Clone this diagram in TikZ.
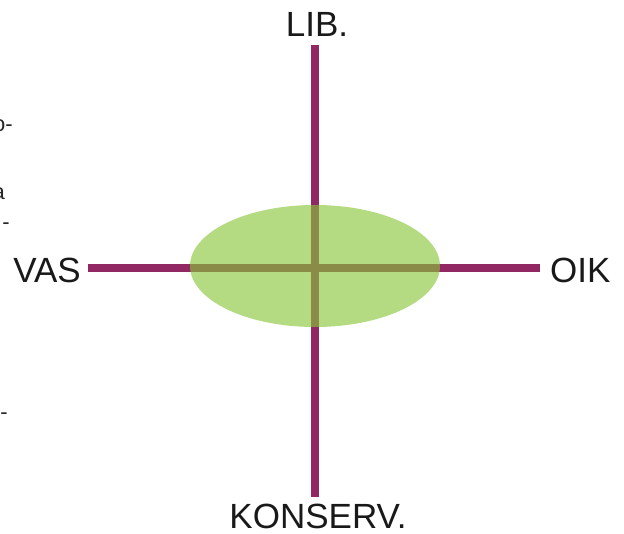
\documentclass[tikz,border=0pt]{standalone}
\usepackage{fontspec}
\setmainfont{Liberation Sans}
\definecolor{axis}{RGB}{145,40,100}
\definecolor{blob}{RGB}{136,197,57}
\begin{document}
\begin{tikzpicture}[x=1pt,y=-1pt,
  axisline/.style={draw=axis,line width=7.5pt},
  lbl/.style={font=\fontsize{35}{40}\selectfont,inner sep=0pt,text=black!90},
  frag/.style={font=\fontsize{22}{24}\selectfont,inner sep=0pt,text=black!85}]
\useasboundingbox (0,0) rectangle (624,534);
\coordinate (top) at (315,45);
\coordinate (bot) at (315,497);
\coordinate (lft) at (88,268);
\coordinate (rgt) at (540,268);
\draw[axisline] (top) -- (bot);
\draw[axisline] (lft) -- (rgt);
\fill[blob,fill opacity=0.63] (315,266) ellipse [x radius=125, y radius=61];
\node[lbl,anchor=base] (lib) at (317,37) {LIB.};
\node[lbl,anchor=base] (kon) at (318,528) {KONSERV.};
\node[lbl,anchor=base east] (vas) at (81,283) {VAS};
\node[lbl,anchor=base west] (oik) at (550,283) {OIK};
\node[frag,anchor=base east] (f1) at (13,132) {o-};
\node[frag,anchor=base east] (f2) at (5,200) {a};
\node[frag,anchor=base east] (f3) at (10,230) {-};
\node[frag,anchor=base east] (f4) at (8,420) {-};
\end{tikzpicture}
\end{document}
